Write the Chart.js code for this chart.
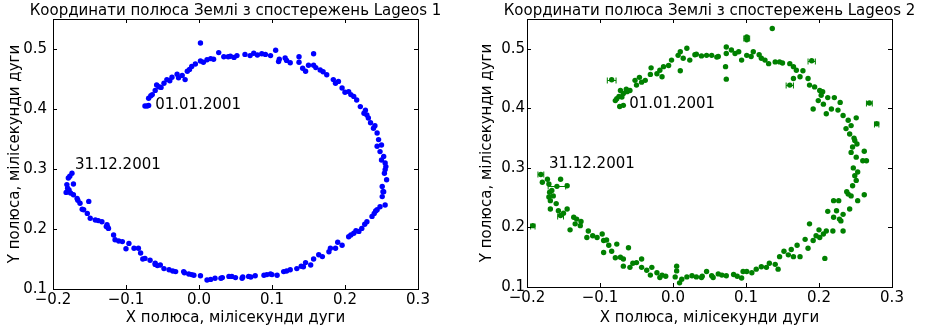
<!DOCTYPE html>
<html>
<head>
<meta charset="utf-8">
<script src="https://cdn.jsdelivr.net/npm/chart.js@4.4.0/dist/chart.umd.min.js"></script>
<style>
  body { margin: 0; background: #fff; width: 926px; height: 329px; overflow: hidden; position: relative; }
  canvas { position: absolute; top: 0; }
</style>
</head>
<body>
<canvas id="lageos1" width="463" height="329" style="left:0"></canvas>
<canvas id="lageos2" width="463" height="329" style="left:463px"></canvas>
<script>
const xTicks = [-0.2, -0.1, 0.0, 0.1, 0.2, 0.3];
const yTicks = [0.1, 0.2, 0.3, 0.4, 0.5];

// Lageos 1 pole coordinates (X, Y)
const lageos1X = [
  -0.074, -0.071, -0.069, -0.069, -0.064, -0.060, -0.055, -0.048, -0.044, -0.037,
  -0.023, -0.019, -0.016, -0.010, 0.002, 0.002, 0.011, 0.020, 0.027, 0.034,
  0.043, 0.052, 0.063, 0.075, 0.086, 0.098, 0.105, 0.109, 0.118, 0.125,
  0.137, 0.137, 0.146, 0.150, 0.157, 0.157, 0.166, 0.175, 0.184, 0.191,
  0.196, 0.205, 0.212, 0.216, 0.221, 0.226, 0.230, 0.235, 0.239, 0.244,
  0.246, 0.244, 0.248, 0.253, 0.255, 0.255, 0.257, 0.251, 0.251, 0.248,
  0.255, 0.244, 0.237, 0.230, 0.223, 0.219, 0.212, 0.205, 0.196, 0.187,
  0.178, 0.169, 0.157, 0.153, 0.143, 0.134, 0.125, 0.116, 0.107, 0.098,
  0.089, 0.077, 0.068, 0.059, 0.050, 0.041, 0.032, 0.022, 0.011, 0.002,
  -0.007, -0.014, -0.021, -0.032, -0.041, -0.048, -0.053, -0.060, -0.067, -0.074,
  -0.080, -0.083, -0.089, -0.096, -0.105, -0.115, -0.117, -0.124, -0.126, -0.133,
  -0.142, -0.149, -0.153, -0.158, -0.151, -0.163, -0.167, -0.172, -0.176, -0.182,
  -0.172, -0.181, -0.179, -0.174, -0.177, -0.058, -0.030, -0.005, 0.040, 0.080,
  0.110, 0.170, 0.200, 0.232, 0.250, 0.252, 0.240, 0.215, 0.180, 0.140,
  0.100, 0.060, 0.030, -0.020, -0.060, -0.100, -0.125, -0.160, -0.178, 0.254,
  -0.066, -0.052, -0.040, -0.028, -0.013, 0.006, 0.016, 0.048, 0.070, 0.091,
  0.120, 0.142, 0.160, 0.187, 0.208, 0.228, 0.241, 0.250, 0.256, 0.253,
  0.242, 0.227, 0.208, 0.190, 0.164, 0.146, 0.120, 0.093, 0.071, 0.045,
  0.016, -0.010, -0.036, -0.057, -0.077, -0.110, -0.127, -0.138, -0.166, -0.180
];
const lageos1Y = [
  0.405, 0.405, 0.406, 0.418, 0.424, 0.431, 0.437, 0.443, 0.449, 0.453,
  0.456, 0.449, 0.463, 0.471, 0.480, 0.510, 0.482, 0.483, 0.494, 0.487,
  0.488, 0.489, 0.491, 0.493, 0.492, 0.489, 0.498, 0.479, 0.485, 0.477,
  0.487, 0.478, 0.463, 0.473, 0.492, 0.473, 0.465, 0.457, 0.449, 0.446,
  0.435, 0.429, 0.421, 0.415, 0.404, 0.393, 0.390, 0.377, 0.368, 0.360,
  0.349, 0.338, 0.329, 0.321, 0.310, 0.299, 0.282, 0.271, 0.254, 0.237,
  0.240, 0.232, 0.221, 0.212, 0.201, 0.196, 0.193, 0.187, 0.173, 0.168,
  0.162, 0.154, 0.150, 0.140, 0.137, 0.134, 0.132, 0.129, 0.123, 0.125,
  0.123, 0.122, 0.121, 0.118, 0.119, 0.121, 0.119, 0.118, 0.115, 0.122,
  0.123, 0.125, 0.129, 0.129, 0.132, 0.134, 0.140, 0.143, 0.148, 0.151,
  0.160, 0.168, 0.168, 0.176, 0.179, 0.182, 0.190, 0.201, 0.207, 0.212,
  0.215, 0.218, 0.226, 0.232, 0.246, 0.243, 0.251, 0.257, 0.260, 0.261,
  0.275, 0.274, 0.285, 0.293, 0.288, 0.440, 0.458, 0.475, 0.487, 0.490,
  0.483, 0.462, 0.428, 0.385, 0.315, 0.262, 0.226, 0.197, 0.168, 0.138,
  0.124, 0.120, 0.118, 0.127, 0.141, 0.167, 0.203, 0.233, 0.265, 0.293,
  0.422, 0.436, 0.447, 0.452, 0.466, 0.478, 0.484, 0.486, 0.489, 0.491,
  0.481, 0.468, 0.469, 0.443, 0.424, 0.398, 0.372, 0.340, 0.304, 0.262,
  0.230, 0.208, 0.190, 0.178, 0.157, 0.144, 0.130, 0.124, 0.120, 0.121,
  0.116, 0.124, 0.130, 0.139, 0.150, 0.180, 0.204, 0.214, 0.248, 0.268
];

// Lageos 2 pole coordinates (X, Y)
const lageos2X = [
  -0.192, -0.181, -0.179, -0.172, -0.170, -0.154, -0.145, -0.159, -0.169, -0.170,
  -0.168, -0.164, -0.168, -0.157, -0.154, -0.145, -0.136, -0.132, -0.134, -0.141,
  -0.127, -0.116, -0.118, -0.104, -0.097, -0.095, -0.091, -0.095, -0.084, -0.077,
  -0.079, -0.068, -0.068, -0.061, -0.059, -0.050, -0.043, -0.043, -0.029, -0.031,
  -0.022, -0.015, -0.018, 0.003, 0.005, 0.005, 0.009, 0.019, 0.026, 0.032,
  0.039, 0.046, 0.053, 0.055, 0.067, 0.073, 0.083, 0.094, 0.096, 0.101,
  0.114, 0.121, 0.128, 0.140, 0.144, 0.146, 0.158, 0.162, 0.165, 0.174,
  0.181, 0.185, 0.187, 0.192, 0.196, 0.201, 0.206, 0.208, 0.210, 0.219,
  0.212, 0.220, 0.230, 0.233, 0.228, 0.220, 0.227, 0.233, 0.242, 0.240,
  0.244, 0.253, 0.262, 0.246, 0.249, 0.253, 0.251, 0.260, 0.265, 0.262,
  0.251, 0.246, 0.249, 0.244, 0.242, 0.237, 0.244, 0.251, 0.233, 0.226,
  0.217, 0.210, 0.206, 0.199, 0.212, 0.221, 0.192, 0.203, 0.201, 0.194,
  0.187, 0.185, 0.174, 0.169, 0.165, 0.160, 0.165, 0.160, 0.146, 0.140,
  0.131, 0.126, 0.121, 0.110, 0.107, 0.101, 0.094, 0.101, 0.101, 0.085,
  0.080, 0.073, 0.073, 0.072, 0.073, 0.062, 0.053, 0.046, 0.039, 0.032,
  0.023, 0.019, 0.014, 0.010, 0.007, 0.010, -0.002, -0.006, -0.013, -0.018,
  -0.015, -0.022, -0.031, -0.038, -0.043, -0.050, -0.052, -0.059, -0.063, -0.068,
  -0.072, -0.070, -0.077, -0.079, -0.073, -0.068, -0.084, 0.136, 0.190, 0.269,
  0.279, -0.166, -0.160, -0.150, -0.126, -0.110, -0.088, -0.072, -0.055, -0.036,
  -0.010, 0.012, 0.040, 0.062, 0.088, 0.108, 0.132, 0.152, 0.170, 0.200,
  0.224, 0.238, 0.247, 0.252, 0.248, 0.240, 0.229, 0.205, 0.178, 0.150,
  0.118, 0.090, 0.060, 0.030, -0.030, -0.046, -0.064, -0.074
];
const lageos2Y = [
  0.203, 0.289, 0.276, 0.281, 0.273, 0.281, 0.270, 0.269, 0.259, 0.251,
  0.245, 0.253, 0.231, 0.228, 0.220, 0.231, 0.217, 0.214, 0.206, 0.196,
  0.203, 0.194, 0.183, 0.183, 0.189, 0.178, 0.179, 0.158, 0.160, 0.172,
  0.149, 0.147, 0.135, 0.166, 0.133, 0.141, 0.147, 0.133, 0.133, 0.120,
  0.124, 0.120, 0.116, 0.117, 0.135, 0.127, 0.107, 0.117, 0.119, 0.117,
  0.116, 0.126, 0.119, 0.116, 0.120, 0.119, 0.121, 0.115, 0.126, 0.126,
  0.130, 0.134, 0.133, 0.138, 0.130, 0.151, 0.154, 0.163, 0.151, 0.151,
  0.180, 0.165, 0.206, 0.178, 0.186, 0.183, 0.189, 0.148, 0.194, 0.194,
  0.227, 0.217, 0.211, 0.194, 0.214, 0.245, 0.245, 0.222, 0.231, 0.256,
  0.253, 0.245, 0.255, 0.270, 0.287, 0.293, 0.279, 0.312, 0.312, 0.328,
  0.318, 0.335, 0.346, 0.326, 0.357, 0.366, 0.371, 0.384, 0.388, 0.397,
  0.399, 0.391, 0.407, 0.413, 0.418, 0.418, 0.399, 0.422, 0.430, 0.436,
  0.439, 0.450, 0.453, 0.464, 0.450, 0.439, 0.470, 0.475, 0.478, 0.478,
  0.475, 0.481, 0.484, 0.495, 0.487, 0.489, 0.481, 0.515, 0.520, 0.492,
  0.498, 0.503, 0.492, 0.470, 0.449, 0.487, 0.489, 0.489, 0.488, 0.491,
  0.481, 0.501, 0.484, 0.495, 0.489, 0.463, 0.481, 0.472, 0.470, 0.464,
  0.453, 0.458, 0.457, 0.447, 0.444, 0.439, 0.447, 0.430, 0.428, 0.425,
  0.430, 0.419, 0.416, 0.413, 0.403, 0.405, 0.448, 0.534, 0.480, 0.409,
  0.374, 0.262, 0.240, 0.224, 0.210, 0.186, 0.170, 0.150, 0.140, 0.128,
  0.118, 0.113, 0.118, 0.122, 0.118, 0.124, 0.140, 0.160, 0.170, 0.196,
  0.228, 0.260, 0.300, 0.340, 0.350, 0.380, 0.410, 0.428, 0.463, 0.476,
  0.490, 0.495, 0.486, 0.490, 0.468, 0.452, 0.432, 0.420
];

// points of Lageos 2 with visible horizontal error bars
const err2X = [-0.159, -0.084, 0.160, 0.279, -0.192, 0.190, 0.269, 0.101, -0.181, -0.154];
const err2Y = [0.269, 0.448, 0.439, 0.374, 0.203, 0.480, 0.409, 0.518, 0.289, 0.220];
const err2DX = [0.012, 0.006, 0.005, 0.003, 0.003, 0.005, 0.004, 0.004, 0.004, 0.004];

const noteLabels = ['01.01.2001', '31.12.2001'];
const noteX = [-0.06, -0.17];
const noteY = [0.40, 0.30];

const font = "'DejaVu Sans', sans-serif";
Chart.defaults.font.family = font;
Chart.defaults.font.size = 15;
Chart.defaults.color = '#000';

function fmt(v) {
  const s = Math.abs(v).toFixed(1);
  return v < -1e-9 ? '\u2212' + s : s;
}

// matplotlib-like frame, inward ticks on all four sides, error bars, title, annotations
const framePlugin = {
  id: 'frame',
  afterDatasetsDraw(chart, args, opts) {
    const { ctx, chartArea: a, scales } = chart;
    ctx.save();
    if (opts.err) {
      ctx.strokeStyle = opts.color;
      ctx.lineWidth = 1;
      ctx.beginPath();
      opts.err.x.forEach((x, i) => {
        const py = Math.round(scales.y.getPixelForValue(opts.err.y[i])) + 0.5;
        const p0 = scales.x.getPixelForValue(x - opts.err.dx[i]);
        const p1 = scales.x.getPixelForValue(x + opts.err.dx[i]);
        ctx.moveTo(p0, py); ctx.lineTo(p1, py);
        ctx.moveTo(p0, py - 3); ctx.lineTo(p0, py + 3);
        ctx.moveTo(p1, py - 3); ctx.lineTo(p1, py + 3);
      });
      ctx.stroke();
    }
    ctx.strokeStyle = '#000';
    ctx.lineWidth = 1;
    ctx.beginPath();
    xTicks.forEach(v => {
      const px = Math.round(scales.x.getPixelForValue(v)) + 0.5;
      ctx.moveTo(px, a.bottom); ctx.lineTo(px, a.bottom - 4);
      ctx.moveTo(px, a.top); ctx.lineTo(px, a.top + 4);
    });
    yTicks.forEach(v => {
      const py = Math.round(scales.y.getPixelForValue(v)) + 0.5;
      ctx.moveTo(a.left, py); ctx.lineTo(a.left + 4, py);
      ctx.moveTo(a.right, py); ctx.lineTo(a.right - 4, py);
    });
    ctx.stroke();
    ctx.strokeRect(Math.round(a.left) + 0.5, Math.round(a.top) + 0.5,
      Math.round(a.right - a.left), Math.round(a.bottom - a.top));
    ctx.fillStyle = '#000';
    // title centred over the plot area, may run wider than it
    ctx.font = '15px ' + font;
    ctx.textAlign = 'center';
    ctx.textBaseline = 'middle';
    ctx.fillText(opts.title, (a.left + a.right) / 2, 11);
    ctx.textAlign = 'left';
    ctx.textBaseline = 'alphabetic';
    noteLabels.forEach((t, i) => {
      ctx.fillText(t, scales.x.getPixelForValue(noteX[i]), scales.y.getPixelForValue(noteY[i]));
    });
    ctx.restore();
  }
};

function makeChart(id, title, xs, ys, color, cfg) {
  return new Chart(document.getElementById(id), {
    type: 'scatter',
    data: {
      datasets: [{
        data: xs.map((x, i) => ({ x: x, y: ys[i] })),
        backgroundColor: color,
        borderColor: color,
        pointStyle: 'circle',
        pointRadius: 2.7,
        borderWidth: 0
      }]
    },
    options: {
      responsive: false,
      animation: false,
      devicePixelRatio: 1,
      layout: { padding: { right: cfg.rightPad, top: 19, left: 0, bottom: 0 } },
      plugins: {
        legend: { display: false },
        tooltip: { enabled: false },
        title: { display: false },
        frame: { err: cfg.err, color: color, title: title }
      },
      scales: {
        x: {
          type: 'linear',
          min: -0.2, max: 0.3,
          grid: { display: false, drawTicks: false, tickLength: 0 },
          border: { display: false },
          afterBuildTicks: s => { s.ticks = xTicks.map(v => ({ value: v })); },
          afterFit: s => { s.height = cfg.xHeight; },
          ticks: { callback: v => fmt(v), padding: 2, maxRotation: 0, autoSkip: false, color: '#000' },
          title: { display: true, text: 'X полюса, мілісекунди дуги', color: '#000', padding: { top: 0, bottom: 2 } }
        },
        y: {
          type: 'linear',
          min: 0.1, max: 0.55,
          grid: { display: false, drawTicks: false, tickLength: 0 },
          border: { display: false },
          afterBuildTicks: s => { s.ticks = yTicks.map(v => ({ value: v })); },
          afterFit: s => { s.width = cfg.yWidth; },
          ticks: { callback: v => fmt(v), padding: cfg.yTickPad, autoSkip: false, color: '#000' },
          title: { display: true, text: 'Y полюса, мілісекунди дуги', color: '#000', padding: { top: cfg.yTitlePad, bottom: 0 } }
        }
      }
    },
    plugins: [framePlugin]
  });
}

makeChart('lageos1', 'Координати полюса Землі з спостережень Lageos 1',
  lageos1X, lageos1Y, '#0000ff',
  { yWidth: 53, yTitlePad: 6, yTickPad: 6, xHeight: 40, rightPad: 45, err: null });
makeChart('lageos2', 'Координати полюса Землі з спостережень Lageos 2',
  lageos2X, lageos2Y, '#008000',
  { yWidth: 64, yTitlePad: 15, yTickPad: 2, xHeight: 42, rightPad: 34,
    err: { x: err2X, y: err2Y, dx: err2DX } });
</script>
</body>
</html>
